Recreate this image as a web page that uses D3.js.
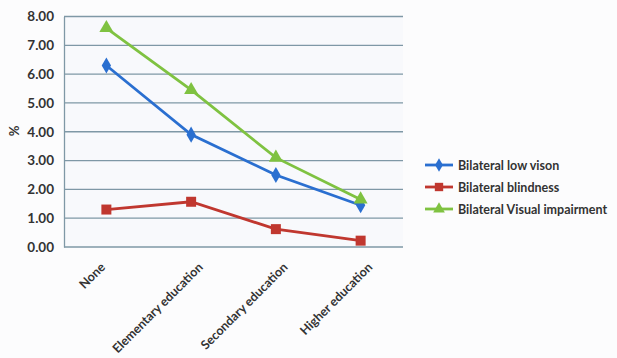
<!DOCTYPE html>
<html>
<head>
<meta charset="utf-8">
<script src="https://cdn.jsdelivr.net/npm/d3@7"></script>
<style>
  body { margin: 0; background: #ffffff; }
  svg { display: block; }
  text { font-family: Lato, "Open Sans", sans-serif; }
</style>
</head>
<body>
<svg id="chart" width="617" height="358"></svg>
<script>
// Education level categories
const categories = ["None", "Elementary education", "Secondary education", "Higher education"];
// Prevalence (%) per series
const lowVision = [6.3, 3.9, 2.5, 1.45];
const blindness = [1.3, 1.57, 0.62, 0.22];
const visualImpairment = [7.6, 5.45, 3.1, 1.65];
const seriesNames = ["Bilateral low vison", "Bilateral blindness", "Bilateral Visual impairment"];
const yTicks = [0, 1, 2, 3, 4, 5, 6, 7, 8];

const series = [
  { name: seriesNames[0], values: lowVision, color: "#2a6fd0", symbol: d3.symbolDiamond, size: 75 },
  { name: seriesNames[1], values: blindness, color: "#c0372f", symbol: d3.symbolSquare, size: 100 },
  { name: seriesNames[2], values: visualImpairment, color: "#7fc241", symbol: d3.symbolTriangle, size: 85 }
];

const svg = d3.select("#chart");
svg.append("rect").attr("width", 617).attr("height", 358).attr("fill", "#fcfcfd");

const m = { left: 64, right: 403, top: 16.5, bottom: 247 };

const x = d3.scalePoint().domain(categories).range([m.left, m.right]).padding(0.5);
const y = d3.scaleLinear().domain([0, 8]).range([m.bottom, m.top]);

// Plot area background
svg.append("rect")
  .attr("x", m.left).attr("y", m.top)
  .attr("width", m.right - m.left).attr("height", m.bottom - m.top)
  .attr("fill", "#f8f9fc");

// Horizontal gridlines
svg.append("g").selectAll("line").data(yTicks).join("line")
  .attr("x1", m.left).attr("x2", m.right)
  .attr("y1", d => y(d)).attr("y2", d => y(d))
  .attr("stroke", "#7f98a6").attr("stroke-width", 1.3);

// Y axis
const yAxis = svg.append("g")
  .attr("transform", `translate(${m.left},0)`)
  .call(d3.axisLeft(y).tickValues(yTicks).tickFormat(d3.format(".2f")).tickSize(0).tickPadding(10));
yAxis.select(".domain").attr("stroke", "#7f98a6").attr("stroke-width", 1.3);
yAxis.selectAll("text")
  .attr("font-size", 13.5).attr("font-weight", "bold").attr("fill", "#333");

// Y axis title
svg.append("text")
  .attr("transform", "translate(19,131) rotate(-90)")
  .attr("text-anchor", "middle")
  .attr("font-size", 13).attr("font-weight", "bold").attr("fill", "#333")
  .text("%");

// X axis labels, rotated 45 degrees; short labels sit centred under the tick
const xAxis = svg.append("g")
  .attr("transform", `translate(0,${m.bottom})`)
  .call(d3.axisBottom(x).tickSize(0).tickPadding(0));
xAxis.select(".domain").remove();
xAxis.selectAll("text")
  .attr("font-size", 12.5).attr("font-weight", "bold").attr("fill", "#333")
  .attr("text-anchor", "end")
  .attr("dy", 0)
  .attr("transform", function () {
    const w = this.getComputedTextLength();
    const dx = w > 60 ? 12 : -1;
    return `translate(${dx},21) rotate(-45)`;
  });

// Lines and markers
const line = d3.line().x((d, i) => x(categories[i])).y(d => y(d));
series.forEach(s => {
  svg.append("path")
    .attr("d", line(s.values))
    .attr("fill", "none").attr("stroke", s.color).attr("stroke-width", 2.8);
  svg.append("g").selectAll("path").data(s.values).join("path")
    .attr("transform", (d, i) => `translate(${x(categories[i])},${y(d)})`)
    .attr("d", d3.symbol().type(s.symbol).size(s.size))
    .attr("fill", s.color);
});

// Legend
const legend = svg.append("g").attr("transform", "translate(425,165)");
series.forEach((s, i) => {
  const g = legend.append("g").attr("transform", `translate(0,${i * 22})`);
  g.append("line").attr("x1", 0).attr("x2", 28).attr("y1", 0).attr("y2", 0)
    .attr("stroke", s.color).attr("stroke-width", 2.8);
  g.append("path").attr("transform", "translate(14,0)")
    .attr("d", d3.symbol().type(s.symbol).size(s.size * 0.7))
    .attr("fill", s.color);
  g.append("text").attr("x", 33).attr("y", 4.5)
    .attr("font-size", 12.5).attr("font-weight", "bold").attr("fill", "#333")
    .text(s.name);
});
</script>
</body>
</html>
